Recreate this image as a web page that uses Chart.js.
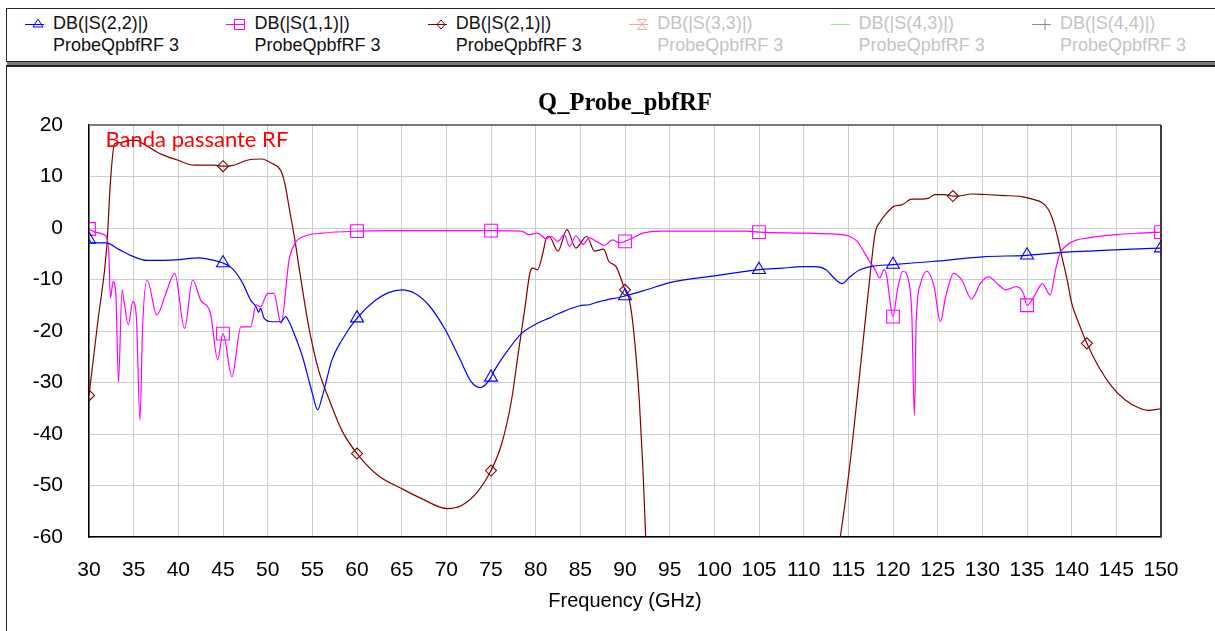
<!DOCTYPE html>
<html><head><meta charset="utf-8">
<script src="https://cdn.jsdelivr.net/npm/chart.js@4.4.1/dist/chart.umd.min.js"></script>
<style>
html,body{margin:0;padding:0;background:#fff;width:1215px;height:631px;overflow:hidden;font-family:"Liberation Sans",Arial,sans-serif;}
#legend{position:absolute;left:6px;top:8px;width:1215px;height:52px;border:1px solid #262626;border-right:none;box-shadow:1px 4px 0 #7a7a7a;background:#fff;}
.item{position:absolute;top:0;height:52px;width:200px;}
.item svg{position:absolute;left:0;top:5px;}
.item .t{position:absolute;left:28px;font-size:18px;line-height:22px;white-space:nowrap;}
#frame{position:absolute;left:6px;top:65px;width:1215px;height:570px;border-left:1px solid #222;border-top:2px solid #222;}
#c{position:absolute;left:0;top:66px;}
</style></head>
<body>
<div id="legend"></div>
<div id="frame"></div>
<canvas id="c" width="1215" height="565"></canvas>
<script>
// ---- axis ranges / ticks ----
const freqMin = 30, freqMax = 150, freqStep = 5;
const dbMin = -60, dbMax = 20, dbStep = 10;
const chartTitle = 'Q_Probe_pbfRF';
const xTitle = 'Frequency (GHz)';

// ---- legend ----
const legendNames = ['DB(|S(2,2)|)', 'DB(|S(1,1)|)', 'DB(|S(2,1)|)', 'DB(|S(3,3)|)', 'DB(|S(4,3)|)', 'DB(|S(4,4)|)'];
const legendSub = 'ProbeQpbfRF 3';
const legendActive = [true, true, true, false, false, false];

// ---- series: [frequency GHz, dB] ----
const s22Points = [[30,-2.2],[30.3,-2.9],[31.9,-2.9],[33.4,-4.2],[34.9,-5.5],[36.5,-6.3],[39.7,-6.2],[42.3,-5.8],[44,-6.3],[45,-6.8],
 [46,-7.8],[47.2,-10.7],[48.1,-14],[48.7,-15.3],[49,-16.4],[49.2,-15.6],[49.6,-17.5],[50.5,-18.2],[51.5,-18.2],[52,-17.2],
 [52.4,-18.2],[52.8,-19.8],[53.9,-25],[54.6,-29.5],[55,-32.1],[55.6,-35.3],[56.1,-32.8],[57.2,-25.6],[58.3,-21.8],[60,-17.5],
 [62.1,-14],[63.6,-12.5],[65,-12],[66.5,-12.7],[68,-14.9],[69.9,-19.8],[71.4,-25],[72.8,-29.9],[73.8,-31],[74.5,-30.2],
 [75,-29],[75.4,-27.6],[76.9,-23.7],[78.4,-20.5],[80.2,-18.5],[81.5,-17.5],[82.6,-16.6],[84.9,-15.1],[86,-14.9],[87.1,-14.3],
 [90,-13.2],[92.4,-12],[95,-10.6],[100,-9.3],[105,-8.1],[107.6,-7.8],[109.9,-7.5],[111.3,-7.5],[112.5,-8.1],[113.4,-9.7],
 [114.3,-10.8],[115.1,-9.6],[116.2,-8.2],[117.5,-7.5],[120,-7.1],[124.4,-6.5],[130,-5.6],[135,-5.3],[139.3,-4.7],[143,-4.4],
 [146.8,-4.1],[150,-3.9]];
const s11Points = [[30,-0.2],[30.7,-0.8],[31.7,-1.3],[32.2,-4.2],[32.4,-13.6],[32.7,-10.4],[33,-12.7],[33.3,-29.9],[33.7,-12],[33.9,-14],
 [34.4,-18.8],[34.9,-14.3],[35.3,-17.2],[35.7,-37.3],[36,-19.2],[36.5,-10.1],[37.6,-16.9],[38.6,-12.7],[39.6,-8.8],[40.7,-19.5],
 [41.6,-10.1],[42.5,-14],[43.6,-16.6],[44.4,-25.6],[45,-20.5],[46,-28.9],[47,-19.2],[48.1,-19.2],[48.7,-14.9],[49.2,-15.3],
 [50,-12.7],[50.7,-12.7],[51.5,-18.5],[52.4,-6.2],[53.1,-2.9],[54.3,-1.5],[56.1,-1.0],[60,-0.6],[63.2,-0.5],[67.3,-0.5],
 [75,-0.5],[78.4,-0.6],[79.3,-1.3],[80.2,-1],[81.2,-2.1],[81.7,-1.6],[82.5,-2.6],[83.2,-1.3],[83.8,-3.6],[84.5,-1.5],
 [85.3,-3.2],[86,-1.9],[86.8,-2.6],[87.7,-3.4],[88.6,-2.3],[89.4,-2.9],[90,-2.6],[90.9,-1.9],[92,-1],[94.2,-0.6],
 [103.5,-0.6],[105,-0.8],[110.2,-1],[113.6,-1.2],[115.1,-1.6],[116,-2.6],[116.7,-4.5],[117.5,-6.8],[118,-8.1],[118.5,-9.7],
 [119,-8.1],[119.3,-9.4],[119.7,-14.6],[120,-17.2],[120.5,-12],[121.1,-8.4],[121.8,-10.7],[122.1,-16.6],[122.4,-36.4],[122.6,-17.9],
 [123.1,-10.7],[123.8,-8.4],[124.6,-11.4],[125.3,-18.2],[125.9,-13.3],[126.8,-8.8],[127.7,-10.1],[128.8,-13.8],[129.8,-10.7],[130.7,-9.5],
 [131.8,-11],[132.6,-12],[133.8,-11.4],[134.6,-12.7],[135,-15],[135.9,-13],[136.7,-10.8],[137.6,-13],[138.2,-8.1],[138.7,-4.9],
 [139.3,-3.6],[140.4,-2.4],[141.9,-1.9],[144.9,-1.3],[147.5,-1],[150,-0.8]];
const s21Points = [[30,-32.5],[31,-18],[32,-3.5],[32.4,9],[32.85,16.3],[33.5,16.6],[34.5,17],[35.3,17],[36.1,16.3],[38,14.4],
 [39.9,13.2],[41.8,12.2],[44,12.2],[45,12],[46,12.1],[47.8,13.2],[49.3,13.4],[50.4,12.6],[51.5,11],[52,8],
 [52.4,4],[53.1,-2.9],[53.5,-7.5],[54.6,-19.2],[55.7,-27.6],[56.9,-33.4],[58.3,-39.3],[60,-43.8],[62.4,-48.1],[65,-50.6],
 [67.3,-52.6],[70.1,-54.5],[71.7,-53.9],[73.6,-51],[75,-47.1],[76.2,-41.9],[77.3,-33.4],[78.1,-23.7],[78.8,-15.5],[79.4,-8.4],
 [79.7,-7.8],[80.2,-8.1],[80.8,-4.9],[81.2,-1.9],[81.5,-1.6],[82.5,-4.5],[83.5,-0.3],[84.5,-3.9],[85.7,-1.6],[86.6,-4.5],
 [87.6,-4.1],[88.2,-6.5],[89,-7.5],[90,-12],[90.5,-14],[91,-20.5],[91.6,-33.4],[92,-46.4],[92.3,-59.4],[92.5,-66],
 [100,null],[113.9,-62],[114.1,-60],[115.1,-47],[116,-32.8],[116.9,-17.9],[117.5,-8.1],[118,-1],[118.6,1.3],[119.3,2.9],
 [120.1,4.2],[121,4.5],[122.1,5.6],[122.9,5.6],[124,5.8],[124.7,6.5],[125.8,6.5],[126.7,6.2],[127.3,6.2],[128.8,6.6],
 [130.3,6.5],[132.5,6.3],[134.4,6.1],[135.6,5.6],[136.7,4.9],[137.4,3.6],[138,1],[138.4,-1.6],[138.9,-5.5],[139.5,-10.1],
 [140,-14.6],[140.8,-18.5],[141.7,-22.4],[143,-26.9],[144.5,-30.8],[146,-33.4],[147.5,-34.9],[148.6,-35.4],[150,-35.1]];

// marker positions (GHz)
const s22Markers = [30,45,60,75,90,105,120,135,150];
const s11Markers = [30,45,60,75,90,105,120,135,150];
const s21Markers = [30,45,60,75,90,126.7,141.7];

// annotation
const annoText = 'Banda passante RF';
const annoFreq = 31.85, annoDb = 15.7;

// ---- legend (HTML) ----
const legendColors = ['#0000ff','#ff00ff','#800000','#f4a3a3','#a6e3a6','#8c8c8c'];
const legendSymbols = [
  c => `<polygon points="13,5 18,13 8,13" fill="none" stroke="${c}" stroke-width="1"/>`,
  c => `<rect x="8.5" y="5.5" width="10" height="10" fill="none" stroke="${c}" stroke-width="1"/>`,
  c => `<polygon points="13,6 17,10.5 13,15 9,10.5" fill="none" stroke="${c}" stroke-width="1"/>`,
  c => `<path d="M8.5,5.5 H17.5 L8.5,15.5 H17.5 Z" fill="none" stroke="${c}" stroke-width="1"/>`,
  c => ``,
  c => `<line x1="13" y1="5" x2="13" y2="16" stroke="${c}" stroke-width="1"/>`
];
const legEl = document.getElementById('legend');
legendNames.forEach((n, i) => {
  const col = legendColors[i];
  const tc = legendActive[i] ? '#111' : '#c3c3c3';
  const d = document.createElement('div');
  d.className = 'item';
  d.style.left = (18 + i * 201.4) + 'px';
  d.innerHTML = `<svg width="24" height="20" viewBox="0 0 24 20"><line x1="0" y1="10.5" x2="19" y2="10.5" stroke="${col}" stroke-width="1"/>${legendSymbols[i](col)}</svg>`
    + `<div class="t" style="top:3px;color:${tc}">${n}</div><div class="t" style="top:25px;color:${tc}">${legendSub}</div>`;
  legEl.appendChild(d);
});

// ---- chart ----
const toXY = pts => pts.map(p => ({x: p[0], y: p[1]}));
const markerRadius = (list, r) => c => (c.raw && list.includes(c.raw.x)) ? r : 0;
const sansFont = '"Liberation Sans", Arial, sans-serif';

function mkSet(label, pts, color, style, list, r) {
  return {
    label, data: toXY(pts), borderColor: color, borderWidth: 1.2,
    pointStyle: style, pointRadius: markerRadius(list, r), pointHoverRadius: 0,
    pointBorderColor: color, pointBackgroundColor: 'rgba(0,0,0,0)', pointBorderWidth: 1.1,
    cubicInterpolationMode: 'monotone', spanGaps: false, fill: false
  };
}

const plotFrame = {
  id: 'plotFrame',
  beforeDatasetsDraw(chart) {
    const {ctx, chartArea: a} = chart;
    ctx.save();
    ctx.lineWidth = 2;
    ctx.strokeStyle = '#7a7a7a';
    ctx.beginPath(); ctx.moveTo(a.left, a.top); ctx.lineTo(a.right, a.top); ctx.stroke();
    ctx.strokeStyle = '#3a3a3a';
    ctx.beginPath(); ctx.moveTo(a.right, a.top); ctx.lineTo(a.right, a.bottom); ctx.stroke();
    ctx.restore();
  }
};
const plotTitle = {
  id: 'plotTitle',
  afterDraw(chart) {
    const {ctx, chartArea: a} = chart;
    ctx.save();
    ctx.font = 'bold 24.5px "Liberation Serif", "Times New Roman", serif';
    ctx.fillStyle = '#000';
    ctx.textAlign = 'center';
    ctx.textBaseline = 'middle';
    ctx.fillText(chartTitle, (a.left + a.right) / 2, a.top - 21);
    ctx.restore();
  }
};
const annotation = {
  id: 'annotation',
  afterDatasetsDraw(chart) {
    const {ctx, scales: {x, y}} = chart;
    ctx.save();
    ctx.font = '22px Lato, "Open Sans", sans-serif';
    ctx.fillStyle = '#ff0000';
    ctx.textBaseline = 'alphabetic';
    ctx.textAlign = 'left';
    ctx.fillText(annoText, x.getPixelForValue(annoFreq), y.getPixelForValue(annoDb));
    ctx.restore();
  }
};

new Chart(document.getElementById('c'), {
  type: 'line',
  data: {
    datasets: [
      mkSet(legendNames[0], s22Points, '#0000ff', 'triangle', s22Markers, 7.5),
      mkSet(legendNames[1], s11Points, '#ff00ff', 'rect', s11Markers, 9),
      mkSet(legendNames[2], s21Points, '#800000', 'rectRot', s21Markers, 5.5)
    ]
  },
  options: {
    responsive: false, animation: false, devicePixelRatio: 1,
    layout: {padding: {left: 0, right: 54, top: 59, bottom: 0}},
    plugins: {
      legend: {display: false}, tooltip: {enabled: false}, title: {display: false}
    },
    scales: {
      x: {
        type: 'linear', min: freqMin, max: freqMax,
        afterFit: s => { s.height = 94; },
        ticks: {stepSize: freqStep, autoSkip: false, maxRotation: 0, minRotation: 0, padding: 21,
          color: '#000', font: {family: sansFont, size: 21}},
        grid: {color: '#cccccc', lineWidth: 1, drawTicks: false},
        border: {color: '#000', width: 1.5},
        title: {display: true, text: xTitle, color: '#000', font: {family: sansFont, size: 20}, padding: {top: 0, bottom: 18}}
      },
      y: {
        type: 'linear', min: dbMin, max: dbMax,
        afterFit: s => { s.width = 89; },
        ticks: {stepSize: dbStep, padding: 26, color: '#000', font: {family: sansFont, size: 21}},
        grid: {color: '#cccccc', lineWidth: 1, drawTicks: false},
        border: {color: '#000', width: 1.5}
      }
    }
  },
  plugins: [plotFrame, annotation, plotTitle]
});
</script>
</body></html>
